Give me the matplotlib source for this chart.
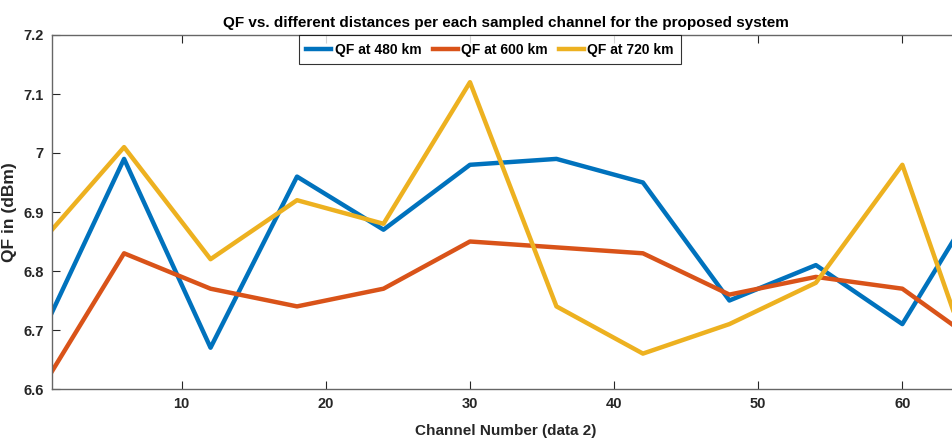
import matplotlib
matplotlib.use('Agg')
import matplotlib.pyplot as plt

channels = [1, 6, 12, 18, 24, 30, 36, 42, 48, 54, 60, 64]
qf_480 = [6.73, 6.99, 6.67, 6.96, 6.87, 6.98, 6.99, 6.95, 6.75, 6.81, 6.71, 6.87]
qf_600 = [6.63, 6.83, 6.77, 6.74, 6.77, 6.85, 6.84, 6.83, 6.76, 6.79, 6.77, 6.70]
qf_720 = [6.87, 7.01, 6.82, 6.92, 6.88, 7.12, 6.74, 6.66, 6.71, 6.78, 6.98, 6.70]
labels = ['QF at 480 km', 'QF at 600 km', 'QF at 720 km']
colors = ['#0072BD', '#D95319', '#EDB120']

plt.rcParams['font.family'] = ['Liberation Sans', 'DejaVu Sans']
plt.rcParams['font.weight'] = 'bold'

fig = plt.figure(figsize=(9.53, 4.41), dpi=100)
ax = fig.add_axes([52 / 953, 1 - 389 / 441, 908 / 953, 354 / 441])

for y, lab, c in zip([qf_480, qf_600, qf_720], labels, colors):
    ax.plot(channels, y, color=c, linewidth=3.2, label=lab)

ax.set_xlim(1, 64)
ax.set_ylim(6.6, 7.2)
ax.set_xticks([10, 20, 30, 40, 50, 60])
ax.set_yticks([6.6, 6.7, 6.8, 6.9, 7.0, 7.1, 7.2])
ax.set_yticklabels(['6.6', '6.7', '6.8', '6.9', '7', '7.1', '7.2'])
ax.tick_params(direction='in', top=True, right=True, labelsize=10.5,
               colors='0.15', length=6, width=0.8, pad=6)
for s in ax.spines.values():
    s.set_color('0.4')
    s.set_linewidth(1.0)

ax.set_title('QF vs. different distances per each sampled channel for the proposed system',
             fontsize=11, fontweight='bold', pad=6)
ax.set_xlabel('Channel Number (data 2)', fontsize=11, fontweight='bold', color='0.15')
ax.set_ylabel('QF in (dBm)', fontsize=12.5, fontweight='bold', color='0.15')
ax.xaxis.set_label_coords(0.5, -0.1)
ax.yaxis.set_label_coords(-0.039, 0.5)

leg = ax.legend(loc='upper center', bbox_to_anchor=(490 / 953, 1 - 35 / 441),
                bbox_transform=fig.transFigure, ncol=3, frameon=True, fancybox=False,
                fontsize=10, handlelength=1.8, handletextpad=0.25, columnspacing=0.8,
                borderpad=0.55, borderaxespad=0)
leg.get_frame().set_edgecolor('black')
leg.get_frame().set_linewidth(0.8)

fig.savefig('out.png', dpi=100)
